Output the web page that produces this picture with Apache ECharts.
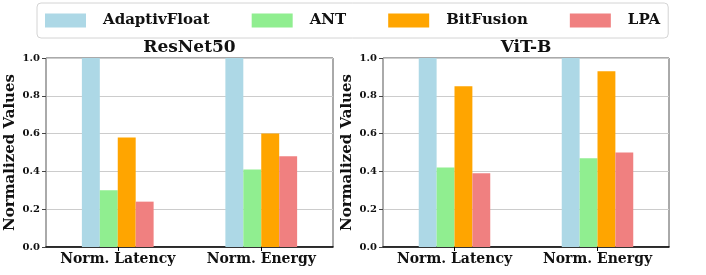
<!DOCTYPE html>
<html>
<head>
<meta charset="utf-8">
<script src="https://cdn.jsdelivr.net/npm/echarts@6/dist/echarts.min.js"></script>
<style>
html,body{margin:0;padding:0;background:#fff;}
#chart{width:706px;height:275px;}
</style>
</head>
<body>
<div id="chart"></div>
<script>
// ---- data ----
const categories = ['Norm. Latency', 'Norm. Energy'];
const seriesNames = ['AdaptivFloat', 'ANT', 'BitFusion', 'LPA'];
const panelTitles = ['ResNet50', 'ViT-B'];
const resnetAdaptivFloat = [1.00, 1.00];
const resnetANT = [0.30, 0.41];
const resnetBitFusion = [0.58, 0.60];
const resnetLPA = [0.24, 0.48];
const vitAdaptivFloat = [1.00, 1.00];
const vitANT = [0.42, 0.47];
const vitBitFusion = [0.85, 0.93];
const vitLPA = [0.39, 0.50];
const yTickValues = [0.0, 0.2, 0.4, 0.6, 0.8, 1.0];

const colors = ['#ADD8E6', '#90EE90', '#FFA500', '#F08080'];
const FONT = "'DejaVu Serif', serif";

const panelData = [
  [resnetAdaptivFloat, resnetANT, resnetBitFusion, resnetLPA],
  [vitAdaptivFloat, vitANT, vitBitFusion, vitLPA]
];

const grids = [
  {left: 46, top: 58, width: 287, height: 189},
  {left: 383, top: 58, width: 286, height: 189}
];

const chart = echarts.init(document.getElementById('chart'), null, {renderer: 'canvas'});

const xAxes = grids.map((g, i) => ({
  type: 'category', gridIndex: i, data: categories,
  axisLine: {show: true, lineStyle: {color: '#000', width: 1.5}},
  axisTick: {show: true, alignWithLabel: true, length: 4, lineStyle: {color: '#000'}},
  axisLabel: {interval: 0, fontFamily: FONT, fontWeight: 'bold', fontSize: 14, color: '#111', margin: 5},
  splitLine: {show: false}
}));

const yAxes = grids.map((g, i) => ({
  type: 'value', gridIndex: i, min: 0, max: 1, interval: 0.2,
  name: 'Normalized Values', nameLocation: 'middle', nameGap: 28,
  nameTextStyle: {fontFamily: FONT, fontWeight: 'bold', fontSize: 15, color: '#111'},
  axisLine: {show: true, lineStyle: {color: '#aaa', width: 1}},
  axisTick: {show: true, length: 4, lineStyle: {color: '#444'}},
  axisLabel: {fontFamily: FONT, fontWeight: 'bold', fontSize: 10, color: '#111', margin: 6,
    formatter: v => (yTickValues.some(t => Math.abs(t - v) < 1e-9) ? v.toFixed(1) : '')},
  splitLine: {show: true, lineStyle: {color: '#cccccc', width: 1}}
}));

const series = [];
panelData.forEach((arrs, p) => {
  arrs.forEach((arr, s) => {
    series.push({
      type: 'bar', name: seriesNames[s], xAxisIndex: p, yAxisIndex: p,
      data: arr, barGap: '0%', barCategoryGap: '50%',
      itemStyle: {color: colors[s]}, silent: true
    });
  });
});

chart.setOption({
  animation: false,
  color: colors,
  grid: grids.map(g => Object.assign({show: true, borderColor: '#555', borderWidth: 1, backgroundColor: 'transparent', containLabel: false}, g)),
  title: panelTitles.map((t, i) => ({
    text: t, left: grids[i].left + grids[i].width / 2, top: 39, textAlign: 'center', padding: 0,
    textStyle: {fontFamily: FONT, fontWeight: 'bold', fontSize: 17, color: '#111'}
  })),
  legend: {
    data: seriesNames, left: 37, top: 3, orient: 'horizontal',
    itemWidth: 41, itemHeight: 14, itemGap: 42, icon: 'rect',
    padding: [10, 8, 10, 8],
    backgroundColor: '#fff', borderColor: '#d4d4d4', borderWidth: 1, borderRadius: 4,
    selectedMode: false,
    formatter: n => '{t|' + n + '}',
    textStyle: {
      rich: {t: {fontFamily: FONT, fontWeight: 'bold', fontSize: 15, color: '#111', padding: [0, 0, 0, 12]}}
    }
  },
  xAxis: xAxes,
  yAxis: yAxes,
  series: series
});
</script>
</body>
</html>
